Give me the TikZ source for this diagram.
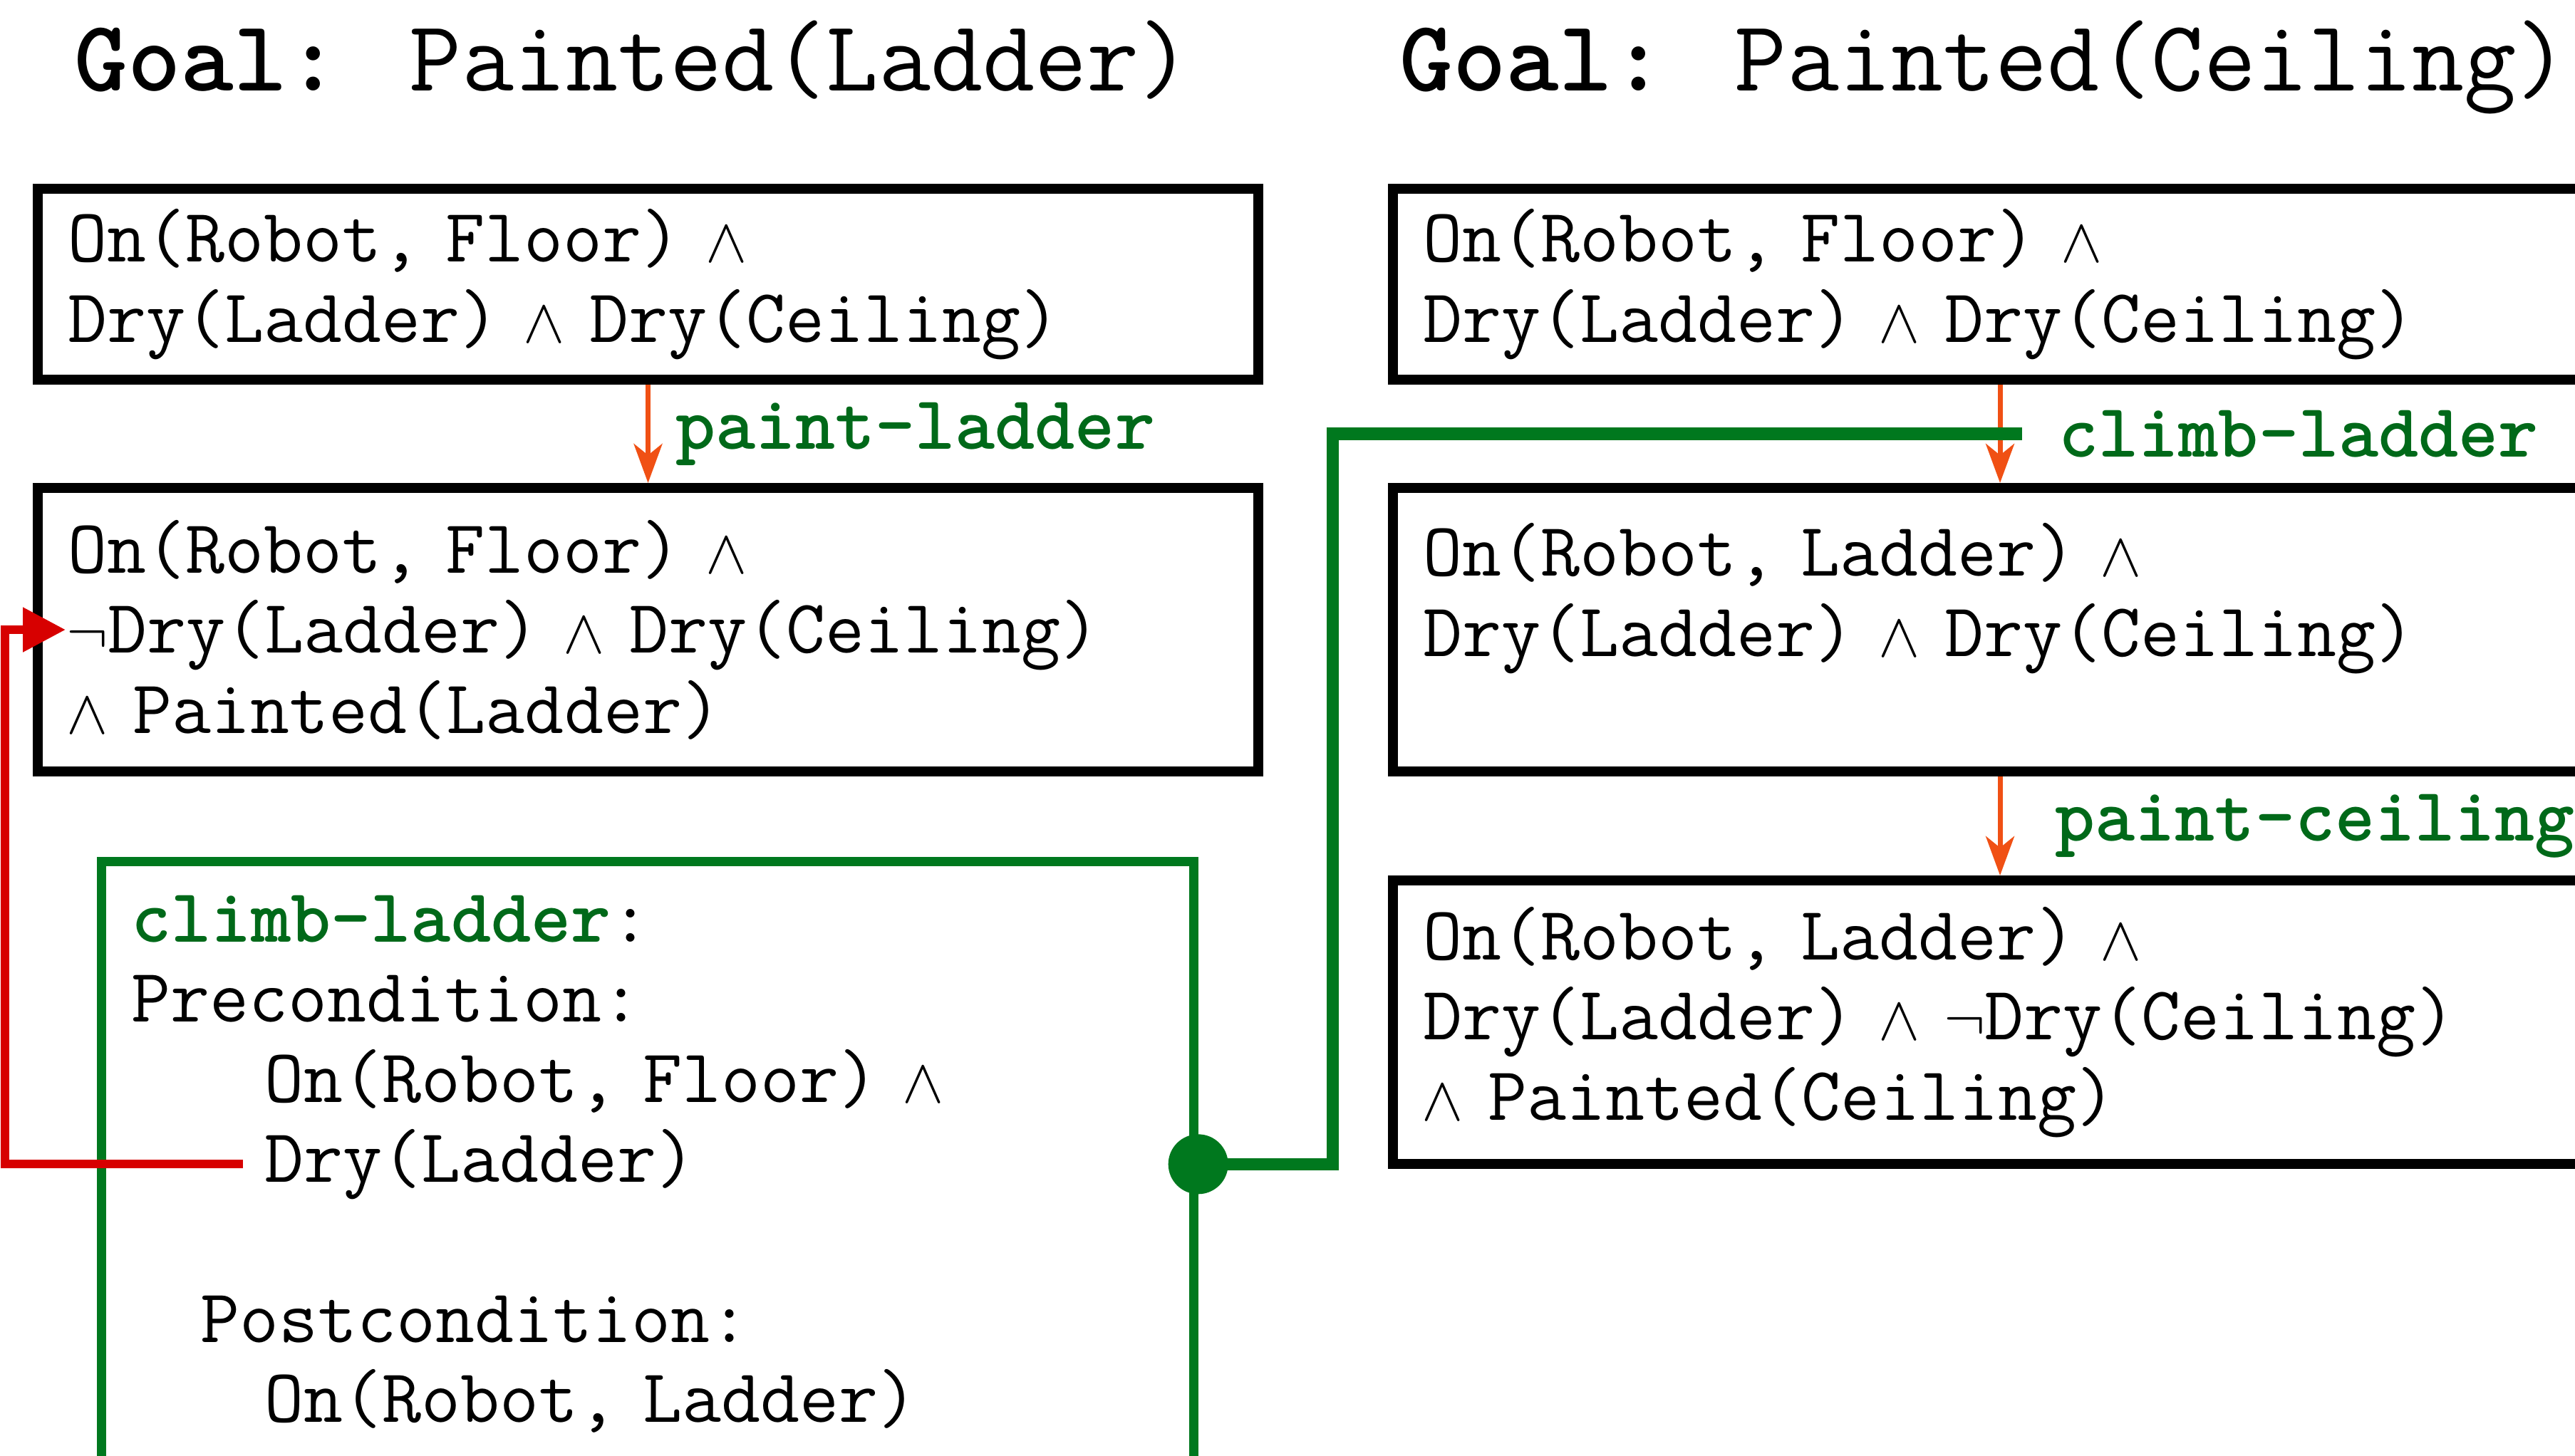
\documentclass[tikz,border=0pt]{standalone}
\usetikzlibrary{arrows.meta,calc}
\definecolor{dgreen}{RGB}{0,105,25}
\definecolor{lgreen}{RGB}{0,120,30}
\definecolor{aorange}{RGB}{240,80,20}
\definecolor{ared}{RGB}{215,0,0}
\newcommand{\AND}{\makebox[0.525em]{$\wedge$}}
\newcommand{\NOT}{\makebox[0.525em]{$\neg$}}
\tikzset{every node/.style={font=\ttfamily\fontsize{30.4}{32}\selectfont,inner sep=0pt}}
\tikzset{box/.style={rectangle,draw,line width=4pt,anchor=north west,align=left,inner xsep=4.2mm}}
\tikzset{cbox/.style={box,draw=lgreen,line width=3.6pt}}
\tikzset{goal/.style={anchor=base west,font=\ttfamily\fontsize{40.4}{48}\selectfont}}
\tikzset{lbl/.style={anchor=west,text=dgreen,font=\ttfamily\bfseries\fontsize{30.4}{32}\selectfont}}
\tikzset{flow/.style={draw=aorange,line width=2pt,-{Stealth[length=5.5mm,width=4mm,inset=1.6mm]}}}
\tikzset{link/.style={draw=lgreen,line width=5pt}}
\tikzset{back/.style={draw=ared,line width=3.4pt,-{Triangle[length=6mm,width=6mm]}}}
\tikzset{dot/.style={circle,fill=lgreen,minimum size=8.4mm}}

\begin{document}
\begin{tikzpicture}
    \useasboundingbox (0,0) rectangle (36.14,-20.44);
    \node[goal] (G1) at (1.04,-1.28) {\textbf{Goal:} Painted(Ladder)};
    \node[goal] (G2) at (19.64,-1.28) {\textbf{Goal:} Painted(Ceiling)};
    % left plan
    \node[box,text width=16.29cm,minimum height=2.68cm] (L1) at (0.46,-2.58)
      {On(Robot, Floor) \AND\\Dry(Ladder) \AND{} Dry(Ceiling)};
    \node[box,text width=16.29cm,minimum height=3.98cm] (L2) at (0.46,-6.78)
      {On(Robot, Floor) \AND\\\NOT Dry(Ladder) \AND{} Dry(Ceiling)\\\AND{} Painted(Ladder)};
    \node[cbox,text width=14.49cm,minimum height=8.5cm] (C) at (1.36,-12.03)
      {\textcolor{dgreen}{\textbf{climb-ladder}}:\\
       Precondition:\\
       \hspace*{1.87cm}On(Robot, Floor) \AND\\
       \hspace*{1.87cm}Dry(Ladder)\\
       \mbox{}\\
       \hspace*{0.97cm}Postcondition:\\
       \hspace*{1.87cm}On(Robot, Ladder)};
    % right plan
    \node[box,text width=16.2cm,minimum height=2.68cm] (R1) at (19.48,-2.58)
      {On(Robot, Floor) \AND\\Dry(Ladder) \AND{} Dry(Ceiling)};
    \node[box,text width=16.2cm,minimum height=3.98cm] (R2) at (19.48,-6.78)
      {On(Robot, Ladder) \AND\\Dry(Ladder) \AND{} Dry(Ceiling)\\\mbox{}};
    \node[box,text width=16.2cm,minimum height=3.98cm] (R3) at (19.48,-12.29)
      {On(Robot, Ladder) \AND\\Dry(Ladder) \AND{} \NOT Dry(Ceiling)\\\AND{} Painted(Ceiling)};
    \foreach \a/\b/\t/\s in {L1/L2/paint-ladder/3.5mm,R1/R2/climb-ladder/7.9mm,R2/R3/paint-ceiling/7.4mm}
      \draw[flow] (\a) -- node[lbl,xshift=\s] {\t} (\b);
    \node[dot] (D) at (C.east) {};
    \coordinate (M) at ($(R1.south)!0.5!(R2.north)+(0.31,0)$);
    \draw[link] (D.center) -- ++(1.89,0) |- (M);
    \draw[back] ([xshift=20.5mm]C.west) -- ++(-3.34,0) |- ([xshift=4.6mm]L2.west);
\end{tikzpicture}
\end{document}
